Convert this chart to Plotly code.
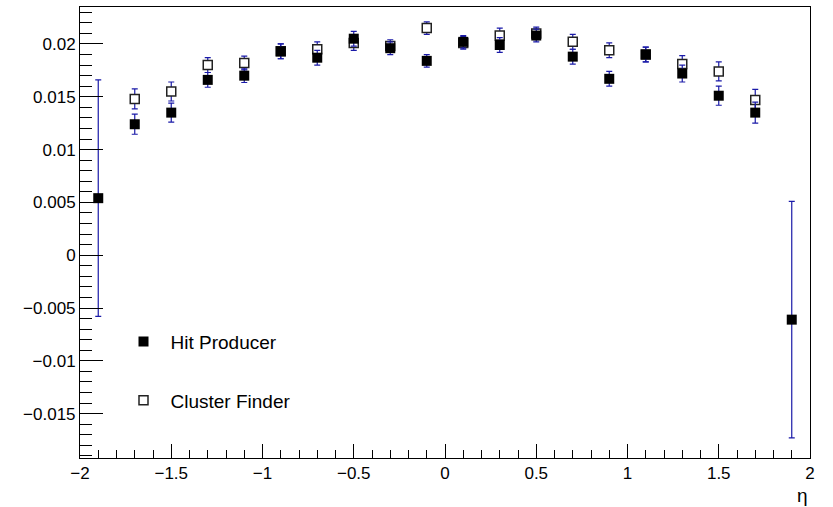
import plotly.graph_objects as go

# Bin centres in pseudorapidity
eta_hit = [-1.9, -1.7, -1.5, -1.3, -1.1, -0.9, -0.7, -0.5, -0.3, -0.1,
           0.1, 0.3, 0.5, 0.7, 0.9, 1.1, 1.3, 1.5, 1.7, 1.9]
hit_producer = [0.0054, 0.0124, 0.0135, 0.0166, 0.0170, 0.0193, 0.0187, 0.0205, 0.0196, 0.0184,
                0.0202, 0.0199, 0.0208, 0.0188, 0.0167, 0.0190, 0.0172, 0.0151, 0.0135, -0.0061]
hit_producer_err = [0.0112, 0.00095, 0.0009, 0.0007, 0.00065, 0.0007, 0.0007, 0.0007, 0.0006, 0.0006,
                    0.0006, 0.0007, 0.0006, 0.0007, 0.0007, 0.0007, 0.0008, 0.0009, 0.0010, 0.0112]

eta_cluster = [-1.7, -1.5, -1.3, -1.1, -0.9, -0.7, -0.5, -0.3, -0.1,
               0.1, 0.3, 0.5, 0.7, 0.9, 1.1, 1.3, 1.5, 1.7]
cluster_finder = [0.0148, 0.0155, 0.0180, 0.0182, 0.0193, 0.0195, 0.0201, 0.0198, 0.0215,
                  0.0201, 0.0208, 0.0210, 0.0202, 0.0194, 0.0190, 0.0181, 0.0174, 0.0147]
cluster_finder_err = [0.00095, 0.0009, 0.0007, 0.00065, 0.0007, 0.0007, 0.0007, 0.0006, 0.0006,
                      0.0006, 0.0007, 0.0006, 0.0007, 0.0007, 0.0007, 0.0008, 0.0009, 0.0010]

FONT = "Liberation Sans, Arial, Helvetica, sans-serif"
ERR_COLOR = "#1a1aa8"

fig = go.Figure()

fig.add_trace(go.Scatter(
    x=eta_cluster, y=cluster_finder, mode="markers", name="Cluster Finder",
    legendrank=2, legendgroup="cluster",
    marker=dict(symbol="square", size=9, color="white",
                line=dict(color="#222222", width=1.5)),
    error_y=dict(type="data", array=cluster_finder_err, visible=True,
                 color=ERR_COLOR, thickness=1.2, width=3),
))

fig.add_trace(go.Scatter(
    x=eta_hit, y=hit_producer, mode="markers", name="Hit Producer",
    legendrank=1, legendgroup="hit",
    marker=dict(symbol="square", size=10, color="black",
                line=dict(color="black", width=0)),
    error_y=dict(type="data", array=hit_producer_err, visible=True,
                 color=ERR_COLOR, thickness=1.2, width=3),
))

fig.add_annotation(
    x=2, xref="x", y=-0.084, yref="paper", text="η", showarrow=False,
    xanchor="right", yanchor="middle", font=dict(family=FONT, size=19, color="black"),
)

fig.update_layout(
    width=833, height=507,
    margin=dict(l=80, r=23, t=7, b=49),
    paper_bgcolor="white", plot_bgcolor="white",
    font=dict(family=FONT, color="black"),
    showlegend=True,
    legend=dict(
        x=0.05, y=0.30, xanchor="left", yanchor="top",
        bgcolor="rgba(0,0,0,0)", borderwidth=0,
        font=dict(family=FONT, size=19, color="black"),
        itemwidth=44, tracegroupgap=31, traceorder="grouped",
    ),
    xaxis=dict(
        range=[-2, 2], dtick=0.5, tick0=0,
        showgrid=False, zeroline=False,
        showline=True, linecolor="black", linewidth=1, mirror=True,
        ticks="inside", ticklen=14, tickwidth=1, tickcolor="black",
        tickfont=dict(family=FONT, size=17, color="black"),
        minor=dict(dtick=0.1, ticks="inside", ticklen=8, tickwidth=1, tickcolor="black", showgrid=False),
    ),
    yaxis=dict(
        range=[-0.0192, 0.0235], dtick=0.005, tick0=0,
        showgrid=False, zeroline=False,
        showline=True, linecolor="black", linewidth=1, mirror=True,
        ticks="inside", ticklen=23, tickwidth=1, tickcolor="black",
        tickfont=dict(family=FONT, size=17, color="black"),
        minor=dict(dtick=0.001, ticks="inside", ticklen=12, tickwidth=1, tickcolor="black", showgrid=False),
    ),
)

fig.write_html("out.html")
